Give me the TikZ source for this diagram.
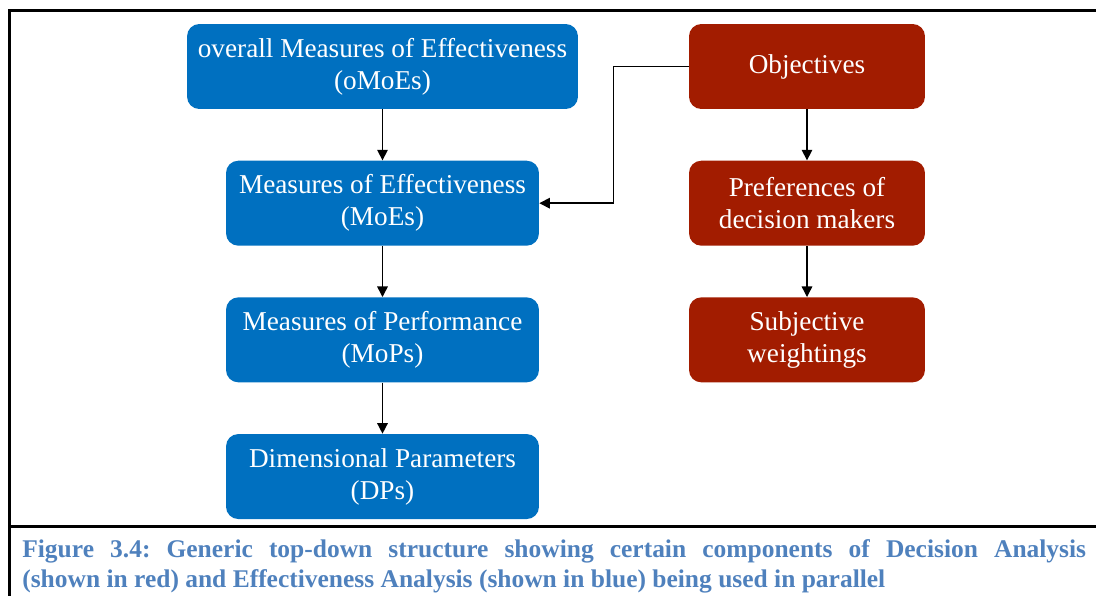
\documentclass[tikz,border=0pt]{standalone}
\usepackage{fontspec}
\setmainfont{Liberation Serif}
\usetikzlibrary{positioning,arrows.meta}
\definecolor{effc}{HTML}{0070C0}
\definecolor{decc}{HTML}{A21C00}
\definecolor{capc}{HTML}{4F81BD}

\tikzset{
  blk/.style={rounded corners=7pt, text=white, align=center, minimum height=1.7cm,
    inner sep=2pt, font=\fontsize{15.5}{18.2}\selectfont},
  effbox/.style={blk, fill=effc, minimum width=6.26cm},
  decbox/.style={blk, fill=decc, minimum width=4.72cm},
  link/.style={-{Triangle[length=6pt,width=6pt]}, line width=0.8pt},
  frameline/.style={line width=1.7pt}
}

\begin{document}
\begin{tikzpicture}[x=0.02cm, y=-0.02cm, node distance=1.02cm]
  \useasboundingbox (0,0) rectangle (1096,596);
  % frame and caption rule
  \draw[frameline] (1096,10.5) -- (9.5,10.5) -- (9.5,596);
  \draw[frameline] (9.5,526) -- (1096,526);

  % effectiveness analysis (blue)
  \node[effbox, minimum width=7.82cm] (omoe) at (382.5,66.5) {overall Measures of Effectiveness\\(oMoEs)};
  \node[effbox, below=of omoe] (moe) {Measures of Effectiveness\\(MoEs)};
  \node[effbox, below=of moe] (mop) {Measures of Performance\\(MoPs)};
  \node[effbox, below=of mop] (dp) {Dimensional Parameters\\(DPs)};

  % decision analysis (red)
  \node[decbox] (obj) at (807,66.5) {Objectives};
  \node[decbox, below=of obj] (pref) {Preferences of\\decision makers};
  \node[decbox, below=of pref] (wgt) {Subjective\\weightings};

  \draw[link] (omoe) -- (moe);
  \draw[link] (moe) -- (mop);
  \draw[link] (mop) -- (dp);
  \draw[link] (obj) -- (pref);
  \draw[link] (pref) -- (wgt);
  \draw[link] (obj.west) -- ++(-1.5cm,0) |- (moe.east);

  % caption
  \node[anchor=north west, inner sep=0pt, text width=21.28cm, align=justify, text=capc,
    font=\fontsize{14.5}{17}\selectfont\bfseries\frenchspacing] (cap) at (22,539)
    {Figure 3.4: Generic top-down structure showing certain components of Decision Analysis\linebreak
     (shown in red) and Effectiveness Analysis (shown in blue) being used in parallel};
\end{tikzpicture}
\end{document}
